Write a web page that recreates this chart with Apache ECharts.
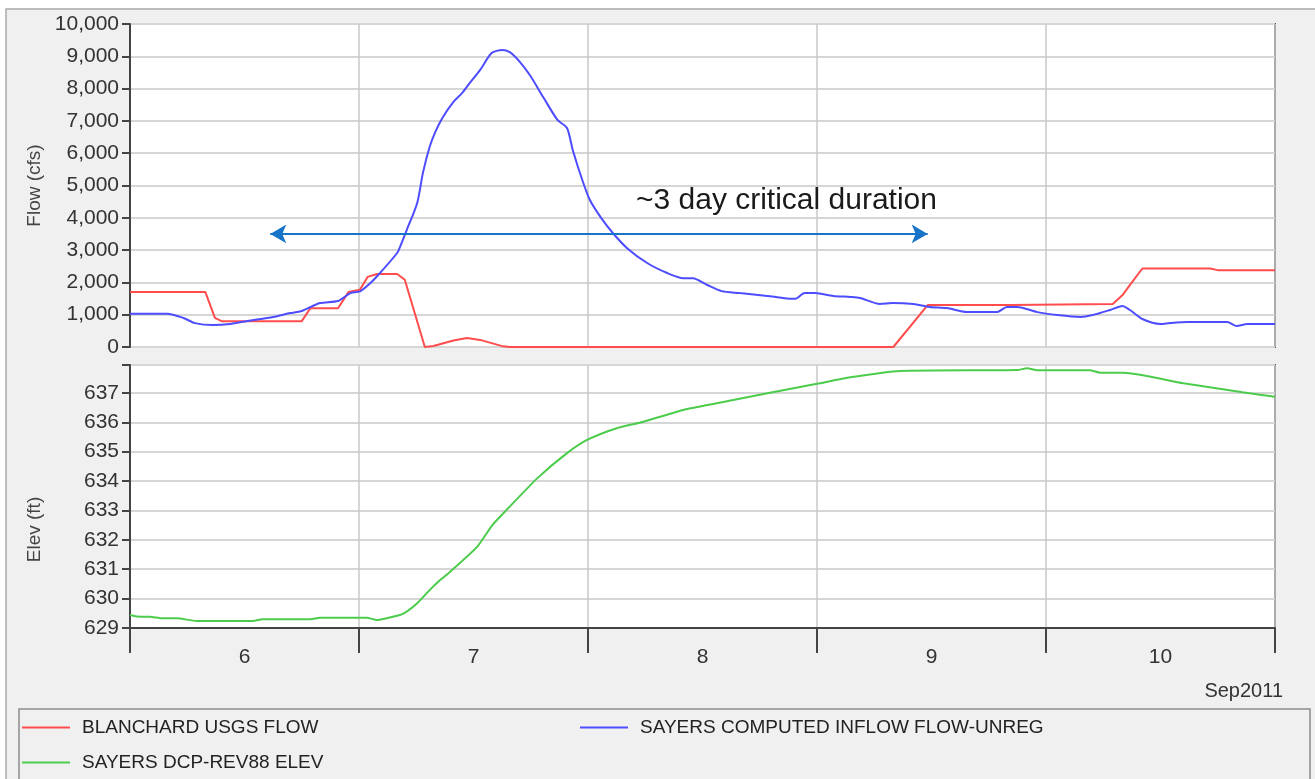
<!DOCTYPE html>
<html>
<head>
<meta charset="utf-8">
<script src="https://cdn.jsdelivr.net/npm/echarts@6/dist/echarts.min.js"></script>
<style>
html,body{margin:0;padding:0;background:#fff;}
#chart{width:1315px;height:779px;}
</style>
</head>
<body>
<div id="chart"></div>
<script>
// x values are hours since Sep 6 2011 00:00
const dayTickHours = [0, 24, 48, 72, 96, 120];
const dayLabelHours = [12, 36, 60, 84, 108];
const dayLabels = ['6', '7', '8', '9', '10'];
const monthLabel = 'Sep2011';

const flowTicks = [0, 1000, 2000, 3000, 4000, 5000, 6000, 7000, 8000, 9000, 10000];
const elevTicks = [629, 630, 631, 632, 633, 634, 635, 636, 637];

const redName = 'BLANCHARD USGS FLOW';
const redHours = [0, 7.9, 8.9, 9.6, 18.0, 18.9, 21.8, 22.9, 24.1, 24.9, 25.9, 28.0, 28.8, 30.9, 31.8, 33.9, 35.3, 36.7, 39.1, 39.8, 80.0, 83.6, 92.2, 103.0, 104.0, 105.0, 106.1, 113.2, 114.0, 120];
const redValues = [1700, 1700, 900, 800, 800, 1200, 1200, 1700, 1770, 2170, 2260, 2260, 2080, 0, 30, 200, 280, 220, 20, 0, 0, 1300, 1300, 1330, 1600, 2000, 2430, 2430, 2380, 2380];

const blueName = 'SAYERS COMPUTED INFLOW FLOW-UNREG';
const blueHours = [0, 3.9, 5.6, 6.8, 8.7, 10.5, 12.3, 15.0, 16.8, 18.0, 19.9, 21.8, 23.1, 24.1, 25.2, 26.2, 28.0, 28.3, 29.0, 30.1, 30.7, 31.4, 32.0, 32.8, 33.9, 34.8, 35.6, 36.7, 37.9, 39.0, 39.8, 40.7, 41.9, 43.3, 44.8, 45.8, 46.4, 47.4, 48.2, 49.3, 50.6, 52.1, 54.2, 56.3, 58.0, 59.0, 60.5, 62.0, 63.9, 66.8, 68.4, 69.7, 70.7, 71.8, 73.7, 75.5, 76.5, 78.6, 79.9, 82.1, 83.8, 85.6, 87.7, 90.9, 91.9, 93.0, 95.1, 97.2, 99.6, 100.9, 102.7, 104.0, 104.8, 106.1, 108.0, 109.0, 110.8, 115.0, 116.0, 117.1, 120];
const blueValues = [1030, 1030, 900, 740, 680, 712, 805, 930, 1050, 1115, 1360, 1424, 1670, 1720, 1980, 2290, 2910, 3100, 3620, 4460, 5390, 6190, 6660, 7120, 7590, 7860, 8170, 8580, 9100, 9195, 9130, 8880, 8420, 7740, 7030, 6780, 6100, 5170, 4550, 4030, 3530, 3060, 2600, 2290, 2130, 2130, 1920, 1730, 1670, 1580, 1520, 1490, 1670, 1670, 1580, 1550, 1520, 1330, 1360, 1330, 1240, 1207, 1085, 1085, 1240, 1240, 1080, 990, 930, 990, 1145, 1270, 1145, 867, 712, 743, 774, 774, 650, 712, 712];

const greenName = 'SAYERS DCP-REV88 ELEV';
const greenHours = [0, 0.7, 2.1, 3.5, 4.9, 7.0, 12.9, 13.9, 18.9, 19.9, 24.8, 25.9, 26.9, 28.6, 30.1, 31.4, 32.5, 33.5, 36.4, 38.0, 39.8, 42.7, 45.8, 47.9, 51.0, 53.8, 58.0, 61.5, 66.8, 72.0, 75.5, 80.7, 93.0, 94.0, 95.1, 100.6, 101.7, 104.1, 110.4, 116.6, 120];
const greenValues = [629.44, 629.39, 629.38, 629.33, 629.33, 629.24, 629.24, 629.30, 629.30, 629.35, 629.35, 629.27, 629.33, 629.48, 629.84, 630.29, 630.63, 630.9, 631.77, 632.51, 633.13, 634.10, 634.95, 635.40, 635.80, 636.02, 636.42, 636.65, 636.99, 637.31, 637.53, 637.75, 637.78, 637.84, 637.77, 637.77, 637.69, 637.69, 637.33, 637.02, 636.87];

// annotation (data coordinates)
const arrowStartHour = 14.7, arrowEndHour = 83.6, arrowFlow = 3500;
const noteHour = 68.8, noteFlow = 4520;
const noteText = '~3 day critical duration';

const zip = (xs, ys) => xs.map((x, i) => [x, ys[i]]);

const tickFont = "'Liberation Sans', Arial, sans-serif";
const legendFont = "'Liberation Sans', Arial, sans-serif";

const chart = echarts.init(document.getElementById('chart'), null, {renderer: 'canvas'});
const yLabelStyle = {color: '#333', fontSize: 21, fontFamily: tickFont, margin: 11};
const legendBase = {
  orient: 'horizontal', padding: 0,
  itemWidth: 48, itemHeight: 2, icon: 'rect',
  textStyle: {fontSize: 19, color: '#222', fontFamily: legendFont, padding: [0, 0, 0, 7], lineHeight: 21}
};
const option = {
  animation: false,
  backgroundColor: '#fff',
  graphic: [
    {type: 'rect', z: -10, shape: {x: 6, y: 9, width: 1320, height: 790}, style: {fill: '#f0f0f0', stroke: '#a9a9a9', lineWidth: 1.5}},
    {type: 'rect', z: -9, shape: {x: 19, y: 709, width: 1291, height: 90}, style: {fill: '#f0f0f0', stroke: '#8c8c8c', lineWidth: 1.5}}
  ],
  title: {
    text: monthLabel, right: 27, top: 676,
    textStyle: {fontSize: 20, fontWeight: 'normal', color: '#333', fontFamily: tickFont}
  },
  legend: [
    Object.assign({data: [redName], left: 22, top: 717}, legendBase),
    Object.assign({data: [blueName], left: 580, top: 717}, legendBase),
    Object.assign({data: [greenName], left: 22, top: 752}, legendBase)
  ],
  grid: [
    {left: 130, top: 24, width: 1145, height: 323, show: true, backgroundColor: '#fff', borderColor: '#555', borderWidth: 2},
    {left: 130, top: 365, width: 1145, height: 263, show: true, backgroundColor: '#fff', borderColor: '#555', borderWidth: 2}
  ],
  xAxis: [
    {
      gridIndex: 0, type: 'value', min: 0, max: 120, interval: 24,
      axisLine: {show: false}, axisTick: {show: false}, axisLabel: {show: false},
      splitLine: {show: true, lineStyle: {color: '#c8c8c8', width: 1.5}}
    },
    {
      gridIndex: 1, type: 'value', min: 0, max: 120, interval: 24,
      axisLine: {show: true, lineStyle: {color: '#444', width: 2}},
      axisTick: {show: true, length: 25, customValues: dayTickHours, lineStyle: {color: '#444', width: 2}},
      axisLabel: {
        customValues: dayLabelHours, margin: 19, color: '#333', fontSize: 21, fontFamily: tickFont,
        formatter: v => { const i = dayLabelHours.indexOf(v); return i >= 0 ? dayLabels[i] : ''; }
      },
      splitLine: {show: true, lineStyle: {color: '#c8c8c8', width: 1.5}}
    }
  ],
  yAxis: [
    {
      gridIndex: 0, type: 'value', min: flowTicks[0], max: flowTicks[flowTicks.length - 1], interval: 1000,
      name: 'Flow (cfs)', nameLocation: 'middle', nameGap: 86,
      nameTextStyle: {fontSize: 19, color: '#444', fontFamily: tickFont},
      axisLine: {show: true, lineStyle: {color: '#444', width: 2}},
      axisTick: {show: true, length: 8, lineStyle: {color: '#444', width: 2}},
      axisLabel: Object.assign({}, yLabelStyle, {formatter: v => v.toLocaleString('en-US')}),
      splitLine: {show: true, lineStyle: {color: '#d6d6d6', width: 2}}
    },
    {
      gridIndex: 1, type: 'value', min: elevTicks[0], max: 637.95, interval: 1,
      name: 'Elev (ft)', nameLocation: 'middle', nameGap: 86,
      nameTextStyle: {fontSize: 19, color: '#444', fontFamily: tickFont, padding: [0, 66, 0, 0]},
      axisLine: {show: true, lineStyle: {color: '#444', width: 2}},
      axisTick: {show: true, length: 8, lineStyle: {color: '#444', width: 2}},
      axisLabel: Object.assign({}, yLabelStyle, {formatter: v => elevTicks.indexOf(v) >= 0 ? String(v) : ''}),
      splitLine: {show: true, lineStyle: {color: '#d6d6d6', width: 2}}
    }
  ],
  series: [
    {
      name: redName, type: 'line', xAxisIndex: 0, yAxisIndex: 0, data: zip(redHours, redValues),
      showSymbol: false, color: '#ff4d4d', lineStyle: {width: 2, color: '#ff4d4d'}, z: 3
    },
    {
      name: blueName, type: 'line', xAxisIndex: 0, yAxisIndex: 0, data: zip(blueHours, blueValues),
      showSymbol: false, smooth: 0.25, color: '#4d4dff', lineStyle: {width: 2, color: '#4d4dff'}, z: 4,
      markLine: {
        silent: true, symbol: ['arrow', 'arrow'], symbolSize: [14, 16],
        lineStyle: {color: '#1874c8', width: 2, type: 'solid'},
        label: {show: false},
        data: [[{coord: [arrowStartHour, arrowFlow]}, {coord: [arrowEndHour, arrowFlow]}]]
      },
      markPoint: {
        silent: true, symbol: 'circle', symbolSize: 1, itemStyle: {color: 'rgba(0,0,0,0)'},
        label: {show: true, position: 'inside', formatter: noteText, fontSize: 30, color: '#1a1a1a', fontFamily: tickFont},
        data: [{coord: [noteHour, noteFlow]}]
      }
    },
    {
      name: greenName, type: 'line', xAxisIndex: 1, yAxisIndex: 1, data: zip(greenHours, greenValues),
      showSymbol: false, smooth: 0.2, color: '#4ccc4c', lineStyle: {width: 2, color: '#4ccc4c'}, z: 3
    }
  ]
};
chart.setOption(option);
</script>
</body>
</html>
